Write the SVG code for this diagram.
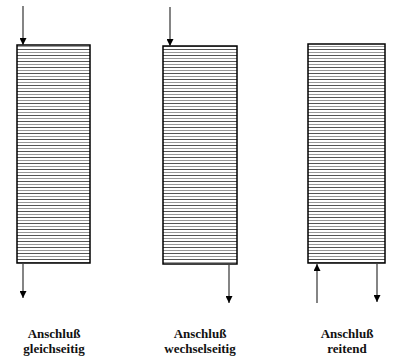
<svg xmlns="http://www.w3.org/2000/svg" width="400" height="364" viewBox="0 0 400 364">
<style>
.box{fill:url(#hatch);stroke:#000;stroke-width:1.5}
.arr{stroke:#333;stroke-width:1.2;fill:none;marker-end:url(#ah)}
.lbl{font-family:"Liberation Serif","Times New Roman",serif;font-weight:bold;font-size:13px;fill:#111;text-anchor:middle}
</style>
<defs>
<pattern id="hatch" patternUnits="userSpaceOnUse" width="8" height="6" y="0">
<rect width="8" height="6" fill="#fff"/>
<line x1="0" y1="1.5" x2="8" y2="1.5" stroke="#555" stroke-width="1"/>
<line x1="0" y1="4.5" x2="8" y2="4.5" stroke="#999" stroke-width="1"/>
</pattern>
<marker id="ah" viewBox="0 0 10 10" refX="10" refY="5" markerWidth="8" markerHeight="7" markerUnits="userSpaceOnUse" orient="auto">
<path d="M0,0 L10,5 L0,10 z" fill="#000"/>
</marker>
</defs>
<g id="node1">
<rect class="box" x="17" y="45" width="73" height="218"/>
<text class="lbl" x="54" y="338">Anschluß</text>
<text class="lbl" x="54" y="353">gleichseitig</text>
</g>
<g id="node2">
<rect class="box" x="163" y="46" width="74" height="218"/>
<text class="lbl" x="200" y="338">Anschluß</text>
<text class="lbl" x="200" y="353">wechselseitig</text>
</g>
<g id="node3">
<rect class="box" x="308" y="44" width="77" height="219"/>
<text class="lbl" x="347" y="338">Anschluß</text>
<text class="lbl" x="347" y="353">reitend</text>
</g>
<g id="connectors">
<line class="arr" x1="23" y1="6" x2="23" y2="45"/>
<line class="arr" x1="23" y1="264" x2="23" y2="298"/>
<line class="arr" x1="170" y1="7" x2="170" y2="46"/>
<line class="arr" x1="229" y1="265" x2="229" y2="303"/>
<line class="arr" x1="317" y1="303" x2="317" y2="264"/>
<line class="arr" x1="377" y1="264" x2="377" y2="302"/>
</g>
</svg>
